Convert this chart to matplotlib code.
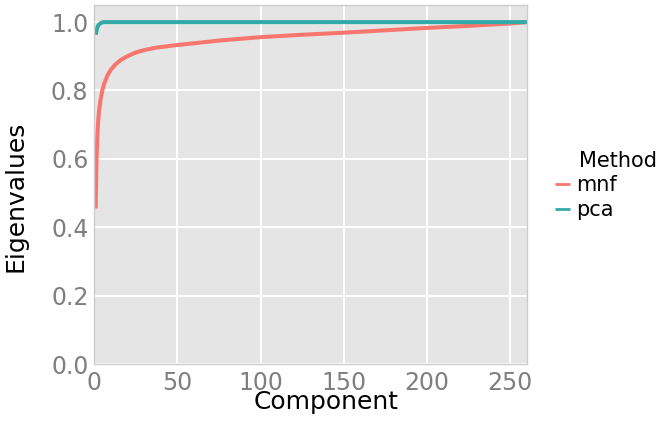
import numpy as np
import matplotlib
matplotlib.use("Agg")
import matplotlib.pyplot as plt

# Cumulative eigenvalue curves
mnf_x = [1, 1.5, 2, 2.5, 3, 4, 5, 6, 8, 10, 13, 16, 20, 25, 30, 37, 45, 50,
         60, 75, 100, 125, 150, 175, 200, 225, 250, 260]
mnf_y = [0.455, 0.595, 0.665, 0.71, 0.74, 0.775, 0.80, 0.818, 0.843, 0.860,
         0.877, 0.889, 0.900, 0.911, 0.918, 0.925, 0.930, 0.933,
         0.938, 0.946, 0.956, 0.963, 0.969, 0.976, 0.983, 0.989, 0.996, 1.0]

pca_x = [1, 1.5, 2, 2.5, 3, 4, 5, 6, 8, 260]
pca_y = [0.963, 0.975, 0.984, 0.990, 0.993, 0.997, 0.999, 1.0, 1.0, 1.0]

methods = ["mnf", "pca"]
colors = ["#F8766D", "#33AAA8"]

x_ticks = [0, 50, 100, 150, 200, 250]
y_ticks = [0.0, 0.2, 0.4, 0.6, 0.8, 1.0]

W, H = 664, 421
fig = plt.figure(figsize=(W / 100, H / 100), dpi=100)
ax = fig.add_axes([94 / W, 1 - 364 / H, (527 - 94) / W, (364 - 5) / H])
ax.set_facecolor("#E5E5E5")

for spine in ax.spines.values():
    spine.set_color("#CCCCCC")
    spine.set_linewidth(1.0)

ax.grid(True, color="white", linewidth=1.4)
ax.set_axisbelow(True)

ax.plot(mnf_x, mnf_y, color=colors[0], linewidth=2.9, label=methods[0],
        solid_capstyle="butt")
ax.plot(pca_x, pca_y, color=colors[1], linewidth=2.9, label=methods[1],
        solid_capstyle="butt")

ax.set_xlim(0, 260)
ax.set_ylim(0, 1.05)
ax.set_xticks(x_ticks)
ax.set_yticks(y_ticks)
ax.set_yticklabels([f"{v:.1f}" for v in y_ticks])
ax.tick_params(length=0, labelsize=17, labelcolor="#7F7F7F")
ax.tick_params(axis="y", pad=4)
ax.tick_params(axis="x", pad=5)

# axis titles sit off-centre in the reference
ax.set_xlabel("Component", fontsize=18)
ax.xaxis.set_label_coords((326 - 94) / 433, (364 - 390) / 359)
ax.set_ylabel("Eigenvalues", fontsize=18)
ax.yaxis.set_label_coords((27 - 94) / 433, (364 - 196.5) / 359)

leg = ax.legend(loc="upper left", bbox_to_anchor=(555 / W, 1 - 175 / H),
                bbox_transform=fig.transFigure, frameon=False, fontsize=15,
                handlelength=0.7, handletextpad=0.3, labelspacing=0.25,
                borderpad=0, borderaxespad=0)
for line in leg.get_lines():
    line.set_linewidth(2.0)
fig.text(579 / W, 1 - 167 / H, "Method", fontsize=15, ha="left",
         va="baseline")

fig.savefig("out.png", dpi=100)
